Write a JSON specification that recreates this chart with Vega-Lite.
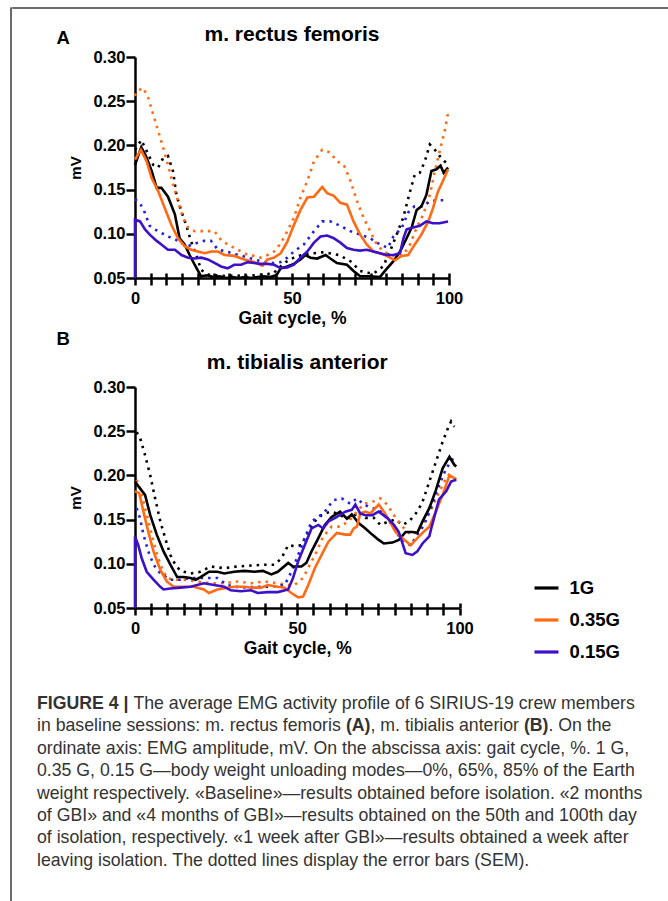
{
"$schema": "https://vega.github.io/schema/vega-lite/v6.json",
"background": "white",
"padding": {"left": 10, "top": 7, "right": 0, "bottom": 0},
"config": {"view": {"stroke": null}, "font": "Liberation Sans",
  "axis": {"grid": false, "domainColor": "black", "domainWidth": 2.5, "tickColor": "black", "tickWidth": 2.5, "labelColor": "black", "labelFont": "Liberation Sans", "labelFontWeight": "bold", "titleColor": "black", "titleFont": "Liberation Sans", "titleFontWeight": "bold", "labelFlush": false, "labelOverlap": false},
  "text": {"font": "Liberation Sans"}},
"datasets": {
"A": [
{"g":"1G","k":"m","x":0,"y":0.178},{"g":"1G","k":"m","x":2,"y":0.198},{"g":"1G","k":"m","x":3.5,"y":0.188},{"g":"1G","k":"m","x":5.3,"y":0.171},{"g":"1G","k":"m","x":6.9,"y":0.152},{"g":"1G","k":"m","x":8.4,"y":0.152},{"g":"1G","k":"m","x":10.5,"y":0.142},{"g":"1G","k":"m","x":12.7,"y":0.122},{"g":"1G","k":"m","x":14.2,"y":0.095},{"g":"1G","k":"m","x":15.8,"y":0.088},{"g":"1G","k":"m","x":17.4,"y":0.076},{"g":"1G","k":"m","x":19,"y":0.065},{"g":"1G","k":"m","x":21,"y":0.052},{"g":"1G","k":"m","x":23,"y":0.053},{"g":"1G","k":"m","x":25,"y":0.051},{"g":"1G","k":"m","x":27,"y":0.052},{"g":"1G","k":"m","x":29,"y":0.050},{"g":"1G","k":"m","x":31,"y":0.051},{"g":"1G","k":"m","x":33,"y":0.050},{"g":"1G","k":"m","x":35,"y":0.051},{"g":"1G","k":"m","x":37,"y":0.050},{"g":"1G","k":"m","x":39,"y":0.051},{"g":"1G","k":"m","x":41,"y":0.052},{"g":"1G","k":"m","x":43,"y":0.051},{"g":"1G","k":"m","x":45,"y":0.053},{"g":"1G","k":"m","x":46.4,"y":0.061},{"g":"1G","k":"m","x":48.5,"y":0.063},{"g":"1G","k":"m","x":50.6,"y":0.066},{"g":"1G","k":"m","x":52.7,"y":0.071},{"g":"1G","k":"m","x":54.3,"y":0.076},{"g":"1G","k":"m","x":55.9,"y":0.073},{"g":"1G","k":"m","x":58,"y":0.072},{"g":"1G","k":"m","x":60.7,"y":0.076},{"g":"1G","k":"m","x":62.2,"y":0.072},{"g":"1G","k":"m","x":64.3,"y":0.067},{"g":"1G","k":"m","x":67.5,"y":0.065},{"g":"1G","k":"m","x":69.6,"y":0.058},{"g":"1G","k":"m","x":71.7,"y":0.052},{"g":"1G","k":"m","x":74.9,"y":0.052},{"g":"1G","k":"m","x":78,"y":0.051},{"g":"1G","k":"m","x":79.6,"y":0.058},{"g":"1G","k":"m","x":82.3,"y":0.069},{"g":"1G","k":"m","x":84.4,"y":0.080},{"g":"1G","k":"m","x":86.5,"y":0.095},{"g":"1G","k":"m","x":88.1,"y":0.107},{"g":"1G","k":"m","x":89.7,"y":0.127},{"g":"1G","k":"m","x":91.2,"y":0.131},{"g":"1G","k":"m","x":92.8,"y":0.144},{"g":"1G","k":"m","x":94.4,"y":0.171},{"g":"1G","k":"m","x":96,"y":0.173},{"g":"1G","k":"m","x":97.3,"y":0.177},{"g":"1G","k":"m","x":98.3,"y":0.169},{"g":"1G","k":"m","x":99.7,"y":0.175},
{"g":"1G","k":"s","x":0,"y":0.195},{"g":"1G","k":"s","x":2,"y":0.206},{"g":"1G","k":"s","x":4.2,"y":0.190},{"g":"1G","k":"s","x":5.8,"y":0.178},{"g":"1G","k":"s","x":7.4,"y":0.175},{"g":"1G","k":"s","x":9,"y":0.186},{"g":"1G","k":"s","x":10.5,"y":0.188},{"g":"1G","k":"s","x":12.1,"y":0.171},{"g":"1G","k":"s","x":13.2,"y":0.144},{"g":"1G","k":"s","x":14.8,"y":0.125},{"g":"1G","k":"s","x":16.3,"y":0.110},{"g":"1G","k":"s","x":17.9,"y":0.091},{"g":"1G","k":"s","x":19.5,"y":0.076},{"g":"1G","k":"s","x":21.1,"y":0.059},{"g":"1G","k":"s","x":23.2,"y":0.054},{"g":"1G","k":"s","x":26,"y":0.053},{"g":"1G","k":"s","x":29,"y":0.052},{"g":"1G","k":"s","x":32,"y":0.053},{"g":"1G","k":"s","x":35,"y":0.052},{"g":"1G","k":"s","x":38,"y":0.053},{"g":"1G","k":"s","x":41,"y":0.054},{"g":"1G","k":"s","x":44,"y":0.055},{"g":"1G","k":"s","x":46,"y":0.062},{"g":"1G","k":"s","x":48,"y":0.068},{"g":"1G","k":"s","x":50.6,"y":0.073},{"g":"1G","k":"s","x":53.8,"y":0.077},{"g":"1G","k":"s","x":57,"y":0.078},{"g":"1G","k":"s","x":59.5,"y":0.079},{"g":"1G","k":"s","x":62,"y":0.078},{"g":"1G","k":"s","x":65,"y":0.076},{"g":"1G","k":"s","x":68.6,"y":0.069},{"g":"1G","k":"s","x":71.7,"y":0.058},{"g":"1G","k":"s","x":74,"y":0.056},{"g":"1G","k":"s","x":76,"y":0.055},{"g":"1G","k":"s","x":79,"y":0.063},{"g":"1G","k":"s","x":81.2,"y":0.080},{"g":"1G","k":"s","x":83.3,"y":0.099},{"g":"1G","k":"s","x":85.4,"y":0.118},{"g":"1G","k":"s","x":87.6,"y":0.148},{"g":"1G","k":"s","x":89.1,"y":0.167},{"g":"1G","k":"s","x":90.7,"y":0.169},{"g":"1G","k":"s","x":92.3,"y":0.182},{"g":"1G","k":"s","x":93.9,"y":0.201},{"g":"1G","k":"s","x":95.5,"y":0.195},{"g":"1G","k":"s","x":97,"y":0.188},{"g":"1G","k":"s","x":98.6,"y":0.182},{"g":"1G","k":"s","x":99.7,"y":0.178},
{"g":"0.35G","k":"m","x":0,"y":0.184},{"g":"0.35G","k":"m","x":1.9,"y":0.195},{"g":"0.35G","k":"m","x":3.7,"y":0.182},{"g":"0.35G","k":"m","x":5.3,"y":0.163},{"g":"0.35G","k":"m","x":7.4,"y":0.148},{"g":"0.35G","k":"m","x":9.5,"y":0.129},{"g":"0.35G","k":"m","x":11.6,"y":0.110},{"g":"0.35G","k":"m","x":13.7,"y":0.095},{"g":"0.35G","k":"m","x":15.8,"y":0.086},{"g":"0.35G","k":"m","x":17.9,"y":0.082},{"g":"0.35G","k":"m","x":20,"y":0.080},{"g":"0.35G","k":"m","x":22.2,"y":0.078},{"g":"0.35G","k":"m","x":24.3,"y":0.080},{"g":"0.35G","k":"m","x":26.4,"y":0.080},{"g":"0.35G","k":"m","x":28.5,"y":0.076},{"g":"0.35G","k":"m","x":31.6,"y":0.075},{"g":"0.35G","k":"m","x":34.8,"y":0.071},{"g":"0.35G","k":"m","x":37.9,"y":0.068},{"g":"0.35G","k":"m","x":40.6,"y":0.064},{"g":"0.35G","k":"m","x":42.2,"y":0.071},{"g":"0.35G","k":"m","x":44.3,"y":0.073},{"g":"0.35G","k":"m","x":46.4,"y":0.078},{"g":"0.35G","k":"m","x":48.5,"y":0.091},{"g":"0.35G","k":"m","x":50.6,"y":0.110},{"g":"0.35G","k":"m","x":52.7,"y":0.127},{"g":"0.35G","k":"m","x":54.9,"y":0.141},{"g":"0.35G","k":"m","x":57,"y":0.142},{"g":"0.35G","k":"m","x":59.6,"y":0.153},{"g":"0.35G","k":"m","x":61.2,"y":0.146},{"g":"0.35G","k":"m","x":63.3,"y":0.143},{"g":"0.35G","k":"m","x":65.4,"y":0.135},{"g":"0.35G","k":"m","x":67.5,"y":0.133},{"g":"0.35G","k":"m","x":69.6,"y":0.114},{"g":"0.35G","k":"m","x":71.7,"y":0.099},{"g":"0.35G","k":"m","x":73.8,"y":0.088},{"g":"0.35G","k":"m","x":75.9,"y":0.080},{"g":"0.35G","k":"m","x":78,"y":0.078},{"g":"0.35G","k":"m","x":80.2,"y":0.075},{"g":"0.35G","k":"m","x":82.8,"y":0.070},{"g":"0.35G","k":"m","x":84.9,"y":0.075},{"g":"0.35G","k":"m","x":87,"y":0.076},{"g":"0.35G","k":"m","x":89.1,"y":0.088},{"g":"0.35G","k":"m","x":91.2,"y":0.099},{"g":"0.35G","k":"m","x":93.4,"y":0.114},{"g":"0.35G","k":"m","x":94.9,"y":0.129},{"g":"0.35G","k":"m","x":96.5,"y":0.148},{"g":"0.35G","k":"m","x":98.1,"y":0.160},{"g":"0.35G","k":"m","x":99.7,"y":0.173},
{"g":"0.35G","k":"s","x":0,"y":0.256},{"g":"0.35G","k":"s","x":0.5,"y":0.261},{"g":"0.35G","k":"s","x":2.6,"y":0.265},{"g":"0.35G","k":"s","x":4.2,"y":0.254},{"g":"0.35G","k":"s","x":5.8,"y":0.235},{"g":"0.35G","k":"s","x":7.4,"y":0.216},{"g":"0.35G","k":"s","x":9,"y":0.197},{"g":"0.35G","k":"s","x":10.5,"y":0.178},{"g":"0.35G","k":"s","x":12.1,"y":0.156},{"g":"0.35G","k":"s","x":13.7,"y":0.137},{"g":"0.35G","k":"s","x":15.3,"y":0.118},{"g":"0.35G","k":"s","x":16.9,"y":0.107},{"g":"0.35G","k":"s","x":19,"y":0.103},{"g":"0.35G","k":"s","x":21,"y":0.103},{"g":"0.35G","k":"s","x":23,"y":0.103},{"g":"0.35G","k":"s","x":25.3,"y":0.103},{"g":"0.35G","k":"s","x":27.4,"y":0.093},{"g":"0.35G","k":"s","x":29.5,"y":0.088},{"g":"0.35G","k":"s","x":31.6,"y":0.084},{"g":"0.35G","k":"s","x":33.8,"y":0.080},{"g":"0.35G","k":"s","x":35.9,"y":0.076},{"g":"0.35G","k":"s","x":37.9,"y":0.075},{"g":"0.35G","k":"s","x":40,"y":0.073},{"g":"0.35G","k":"s","x":42.2,"y":0.076},{"g":"0.35G","k":"s","x":44.3,"y":0.080},{"g":"0.35G","k":"s","x":46.4,"y":0.089},{"g":"0.35G","k":"s","x":48.5,"y":0.103},{"g":"0.35G","k":"s","x":50.6,"y":0.118},{"g":"0.35G","k":"s","x":52.7,"y":0.141},{"g":"0.35G","k":"s","x":54.9,"y":0.160},{"g":"0.35G","k":"s","x":57,"y":0.182},{"g":"0.35G","k":"s","x":59.6,"y":0.195},{"g":"0.35G","k":"s","x":62.2,"y":0.192},{"g":"0.35G","k":"s","x":64.3,"y":0.182},{"g":"0.35G","k":"s","x":66.5,"y":0.178},{"g":"0.35G","k":"s","x":68.6,"y":0.160},{"g":"0.35G","k":"s","x":70.7,"y":0.137},{"g":"0.35G","k":"s","x":72.8,"y":0.118},{"g":"0.35G","k":"s","x":74.9,"y":0.103},{"g":"0.35G","k":"s","x":77,"y":0.088},{"g":"0.35G","k":"s","x":79.1,"y":0.080},{"g":"0.35G","k":"s","x":81.2,"y":0.076},{"g":"0.35G","k":"s","x":83.3,"y":0.075},{"g":"0.35G","k":"s","x":85.4,"y":0.076},{"g":"0.35G","k":"s","x":87.6,"y":0.088},{"g":"0.35G","k":"s","x":89.7,"y":0.107},{"g":"0.35G","k":"s","x":91.8,"y":0.122},{"g":"0.35G","k":"s","x":93.9,"y":0.144},{"g":"0.35G","k":"s","x":95.5,"y":0.171},{"g":"0.35G","k":"s","x":97,"y":0.193},{"g":"0.35G","k":"s","x":98.6,"y":0.216},{"g":"0.35G","k":"s","x":99.7,"y":0.237},
{"g":"0.15G","k":"m","x":0,"y":0.050},{"g":"0.15G","k":"m","x":0,"y":0.116},{"g":"0.15G","k":"m","x":1.6,"y":0.114},{"g":"0.15G","k":"m","x":3.2,"y":0.105},{"g":"0.15G","k":"m","x":4.7,"y":0.099},{"g":"0.15G","k":"m","x":6.9,"y":0.092},{"g":"0.15G","k":"m","x":8.4,"y":0.088},{"g":"0.15G","k":"m","x":10.5,"y":0.082},{"g":"0.15G","k":"m","x":12.7,"y":0.082},{"g":"0.15G","k":"m","x":14.8,"y":0.076},{"g":"0.15G","k":"m","x":16.9,"y":0.073},{"g":"0.15G","k":"m","x":19,"y":0.072},{"g":"0.15G","k":"m","x":21.1,"y":0.073},{"g":"0.15G","k":"m","x":23.2,"y":0.071},{"g":"0.15G","k":"m","x":25.3,"y":0.067},{"g":"0.15G","k":"m","x":27.4,"y":0.063},{"g":"0.15G","k":"m","x":29.5,"y":0.061},{"g":"0.15G","k":"m","x":31.6,"y":0.065},{"g":"0.15G","k":"m","x":33.8,"y":0.065},{"g":"0.15G","k":"m","x":35.9,"y":0.068},{"g":"0.15G","k":"m","x":37.9,"y":0.067},{"g":"0.15G","k":"m","x":40,"y":0.066},{"g":"0.15G","k":"m","x":42.2,"y":0.066},{"g":"0.15G","k":"m","x":44.3,"y":0.065},{"g":"0.15G","k":"m","x":46.4,"y":0.061},{"g":"0.15G","k":"m","x":48.5,"y":0.062},{"g":"0.15G","k":"m","x":50.6,"y":0.065},{"g":"0.15G","k":"m","x":52.7,"y":0.073},{"g":"0.15G","k":"m","x":54.9,"y":0.080},{"g":"0.15G","k":"m","x":57,"y":0.090},{"g":"0.15G","k":"m","x":59.1,"y":0.097},{"g":"0.15G","k":"m","x":61.2,"y":0.098},{"g":"0.15G","k":"m","x":63.3,"y":0.095},{"g":"0.15G","k":"m","x":65.4,"y":0.090},{"g":"0.15G","k":"m","x":67.5,"y":0.084},{"g":"0.15G","k":"m","x":69.6,"y":0.082},{"g":"0.15G","k":"m","x":71.7,"y":0.081},{"g":"0.15G","k":"m","x":73.8,"y":0.082},{"g":"0.15G","k":"m","x":75.9,"y":0.080},{"g":"0.15G","k":"m","x":78,"y":0.078},{"g":"0.15G","k":"m","x":80.2,"y":0.076},{"g":"0.15G","k":"m","x":82.3,"y":0.076},{"g":"0.15G","k":"m","x":84.4,"y":0.078},{"g":"0.15G","k":"m","x":85.5,"y":0.095},{"g":"0.15G","k":"m","x":86.5,"y":0.105},{"g":"0.15G","k":"m","x":88.6,"y":0.107},{"g":"0.15G","k":"m","x":90.7,"y":0.109},{"g":"0.15G","k":"m","x":92.8,"y":0.114},{"g":"0.15G","k":"m","x":94.9,"y":0.112},{"g":"0.15G","k":"m","x":97,"y":0.112},{"g":"0.15G","k":"m","x":99.7,"y":0.114},
{"g":"0.15G","k":"s","x":0,"y":0.139},{"g":"0.15G","k":"s","x":1.5,"y":0.135},{"g":"0.15G","k":"s","x":2.9,"y":0.126},{"g":"0.15G","k":"s","x":4.7,"y":0.109},{"g":"0.15G","k":"s","x":6.3,"y":0.105},{"g":"0.15G","k":"s","x":8.4,"y":0.101},{"g":"0.15G","k":"s","x":10.5,"y":0.097},{"g":"0.15G","k":"s","x":12.6,"y":0.094},{"g":"0.15G","k":"s","x":14.7,"y":0.090},{"g":"0.15G","k":"s","x":16.8,"y":0.086},{"g":"0.15G","k":"s","x":20,"y":0.090},{"g":"0.15G","k":"s","x":22,"y":0.092},{"g":"0.15G","k":"s","x":24.2,"y":0.092},{"g":"0.15G","k":"s","x":26.4,"y":0.082},{"g":"0.15G","k":"s","x":29,"y":0.080},{"g":"0.15G","k":"s","x":32,"y":0.077},{"g":"0.15G","k":"s","x":35,"y":0.074},{"g":"0.15G","k":"s","x":38,"y":0.071},{"g":"0.15G","k":"s","x":41,"y":0.068},{"g":"0.15G","k":"s","x":44,"y":0.067},{"g":"0.15G","k":"s","x":46.4,"y":0.068},{"g":"0.15G","k":"s","x":48.5,"y":0.073},{"g":"0.15G","k":"s","x":50.6,"y":0.080},{"g":"0.15G","k":"s","x":53.8,"y":0.088},{"g":"0.15G","k":"s","x":57,"y":0.103},{"g":"0.15G","k":"s","x":59.6,"y":0.114},{"g":"0.15G","k":"s","x":62.2,"y":0.114},{"g":"0.15G","k":"s","x":65.4,"y":0.109},{"g":"0.15G","k":"s","x":68.6,"y":0.103},{"g":"0.15G","k":"s","x":71.7,"y":0.099},{"g":"0.15G","k":"s","x":74.9,"y":0.095},{"g":"0.15G","k":"s","x":77,"y":0.090},{"g":"0.15G","k":"s","x":79.3,"y":0.086},{"g":"0.15G","k":"s","x":80.5,"y":0.084},{"g":"0.15G","k":"s","x":82.3,"y":0.097},{"g":"0.15G","k":"s","x":85,"y":0.107},{"g":"0.15G","k":"s","x":87,"y":0.124},{"g":"0.15G","k":"s","x":89,"y":0.131},{"g":"0.15G","k":"s","x":91.7,"y":0.131},{"g":"0.15G","k":"s","x":94,"y":0.137},{"g":"0.15G","k":"s","x":97,"y":0.138},{"g":"0.15G","k":"s","x":99,"y":0.138}
],
"B": [
{"g":"1G","k":"m","x":0,"y":0.193},{"g":"1G","k":"m","x":1.6,"y":0.185},{"g":"1G","k":"m","x":3.1,"y":0.178},{"g":"1G","k":"m","x":4.7,"y":0.155},{"g":"1G","k":"m","x":6.7,"y":0.133},{"g":"1G","k":"m","x":8.8,"y":0.114},{"g":"1G","k":"m","x":10.9,"y":0.099},{"g":"1G","k":"m","x":13,"y":0.085},{"g":"1G","k":"m","x":15,"y":0.085},{"g":"1G","k":"m","x":17.1,"y":0.084},{"g":"1G","k":"m","x":18.7,"y":0.082},{"g":"1G","k":"m","x":20.2,"y":0.085},{"g":"1G","k":"m","x":22.8,"y":0.091},{"g":"1G","k":"m","x":25.4,"y":0.091},{"g":"1G","k":"m","x":27.5,"y":0.089},{"g":"1G","k":"m","x":30.6,"y":0.091},{"g":"1G","k":"m","x":33.7,"y":0.092},{"g":"1G","k":"m","x":36.8,"y":0.091},{"g":"1G","k":"m","x":39.4,"y":0.092},{"g":"1G","k":"m","x":42,"y":0.088},{"g":"1G","k":"m","x":44,"y":0.091},{"g":"1G","k":"m","x":47.2,"y":0.101},{"g":"1G","k":"m","x":48.7,"y":0.097},{"g":"1G","k":"m","x":51.3,"y":0.097},{"g":"1G","k":"m","x":52.8,"y":0.101},{"g":"1G","k":"m","x":54.4,"y":0.114},{"g":"1G","k":"m","x":56.5,"y":0.129},{"g":"1G","k":"m","x":58.5,"y":0.144},{"g":"1G","k":"m","x":60.6,"y":0.153},{"g":"1G","k":"m","x":63.2,"y":0.159},{"g":"1G","k":"m","x":65.3,"y":0.151},{"g":"1G","k":"m","x":66.8,"y":0.156},{"g":"1G","k":"m","x":68.9,"y":0.146},{"g":"1G","k":"m","x":71,"y":0.140},{"g":"1G","k":"m","x":73.1,"y":0.133},{"g":"1G","k":"m","x":75.1,"y":0.127},{"g":"1G","k":"m","x":76.7,"y":0.123},{"g":"1G","k":"m","x":79.3,"y":0.124},{"g":"1G","k":"m","x":81.3,"y":0.127},{"g":"1G","k":"m","x":83.4,"y":0.136},{"g":"1G","k":"m","x":85.5,"y":0.136},{"g":"1G","k":"m","x":87,"y":0.135},{"g":"1G","k":"m","x":88.6,"y":0.148},{"g":"1G","k":"m","x":90.7,"y":0.163},{"g":"1G","k":"m","x":92.7,"y":0.183},{"g":"1G","k":"m","x":94.8,"y":0.208},{"g":"1G","k":"m","x":96.9,"y":0.221},{"g":"1G","k":"m","x":98.4,"y":0.212},{"g":"1G","k":"m","x":99,"y":0.210},
{"g":"1G","k":"s","x":0.5,"y":0.249},{"g":"1G","k":"s","x":1.6,"y":0.242},{"g":"1G","k":"s","x":3.1,"y":0.223},{"g":"1G","k":"s","x":4.7,"y":0.200},{"g":"1G","k":"s","x":6.2,"y":0.174},{"g":"1G","k":"s","x":7.8,"y":0.148},{"g":"1G","k":"s","x":9.3,"y":0.129},{"g":"1G","k":"s","x":10.9,"y":0.110},{"g":"1G","k":"s","x":12.4,"y":0.099},{"g":"1G","k":"s","x":14,"y":0.092},{"g":"1G","k":"s","x":17.1,"y":0.089},{"g":"1G","k":"s","x":20.2,"y":0.091},{"g":"1G","k":"s","x":23.3,"y":0.097},{"g":"1G","k":"s","x":27.5,"y":0.095},{"g":"1G","k":"s","x":31.6,"y":0.097},{"g":"1G","k":"s","x":35.8,"y":0.098},{"g":"1G","k":"s","x":39.9,"y":0.099},{"g":"1G","k":"s","x":43,"y":0.099},{"g":"1G","k":"s","x":45.1,"y":0.106},{"g":"1G","k":"s","x":47.2,"y":0.121},{"g":"1G","k":"s","x":49.2,"y":0.120},{"g":"1G","k":"s","x":51.3,"y":0.121},{"g":"1G","k":"s","x":53.4,"y":0.136},{"g":"1G","k":"s","x":55.4,"y":0.148},{"g":"1G","k":"s","x":57.5,"y":0.155},{"g":"1G","k":"s","x":60.1,"y":0.159},{"g":"1G","k":"s","x":62.2,"y":0.157},{"g":"1G","k":"s","x":64.8,"y":0.152},{"g":"1G","k":"s","x":66.8,"y":0.152},{"g":"1G","k":"s","x":68.9,"y":0.159},{"g":"1G","k":"s","x":71,"y":0.152},{"g":"1G","k":"s","x":73.6,"y":0.152},{"g":"1G","k":"s","x":75.6,"y":0.144},{"g":"1G","k":"s","x":78.2,"y":0.148},{"g":"1G","k":"s","x":80.3,"y":0.150},{"g":"1G","k":"s","x":82.4,"y":0.144},{"g":"1G","k":"s","x":84.5,"y":0.148},{"g":"1G","k":"s","x":87,"y":0.159},{"g":"1G","k":"s","x":88.6,"y":0.170},{"g":"1G","k":"s","x":90.7,"y":0.193},{"g":"1G","k":"s","x":92.7,"y":0.215},{"g":"1G","k":"s","x":94.8,"y":0.238},{"g":"1G","k":"s","x":96.4,"y":0.253},{"g":"1G","k":"s","x":97.4,"y":0.261},{"g":"1G","k":"s","x":98.4,"y":0.255},
{"g":"0.35G","k":"m","x":0,"y":0.182},{"g":"0.35G","k":"m","x":1.3,"y":0.180},{"g":"0.35G","k":"m","x":2.6,"y":0.159},{"g":"0.35G","k":"m","x":4.1,"y":0.136},{"g":"0.35G","k":"m","x":5.7,"y":0.114},{"g":"0.35G","k":"m","x":7.8,"y":0.093},{"g":"0.35G","k":"m","x":9.8,"y":0.080},{"g":"0.35G","k":"m","x":11.9,"y":0.074},{"g":"0.35G","k":"m","x":15,"y":0.074},{"g":"0.35G","k":"m","x":18.1,"y":0.074},{"g":"0.35G","k":"m","x":21.2,"y":0.071},{"g":"0.35G","k":"m","x":22.8,"y":0.067},{"g":"0.35G","k":"m","x":25.4,"y":0.071},{"g":"0.35G","k":"m","x":28.5,"y":0.073},{"g":"0.35G","k":"m","x":30.6,"y":0.074},{"g":"0.35G","k":"m","x":33.7,"y":0.074},{"g":"0.35G","k":"m","x":35.8,"y":0.073},{"g":"0.35G","k":"m","x":38.9,"y":0.073},{"g":"0.35G","k":"m","x":40.9,"y":0.076},{"g":"0.35G","k":"m","x":44,"y":0.074},{"g":"0.35G","k":"m","x":46.1,"y":0.073},{"g":"0.35G","k":"m","x":48.2,"y":0.067},{"g":"0.35G","k":"m","x":50.3,"y":0.062},{"g":"0.35G","k":"m","x":51.8,"y":0.063},{"g":"0.35G","k":"m","x":53.4,"y":0.076},{"g":"0.35G","k":"m","x":55.4,"y":0.095},{"g":"0.35G","k":"m","x":57.5,"y":0.110},{"g":"0.35G","k":"m","x":59.6,"y":0.125},{"g":"0.35G","k":"m","x":62.2,"y":0.135},{"g":"0.35G","k":"m","x":64.8,"y":0.133},{"g":"0.35G","k":"m","x":66.3,"y":0.133},{"g":"0.35G","k":"m","x":67.4,"y":0.140},{"g":"0.35G","k":"m","x":68.4,"y":0.142},{"g":"0.35G","k":"m","x":69.4,"y":0.157},{"g":"0.35G","k":"m","x":71,"y":0.159},{"g":"0.35G","k":"m","x":72.5,"y":0.157},{"g":"0.35G","k":"m","x":75.1,"y":0.167},{"g":"0.35G","k":"m","x":76.7,"y":0.159},{"g":"0.35G","k":"m","x":78.2,"y":0.150},{"g":"0.35G","k":"m","x":80.3,"y":0.136},{"g":"0.35G","k":"m","x":82.4,"y":0.129},{"g":"0.35G","k":"m","x":85,"y":0.121},{"g":"0.35G","k":"m","x":86.5,"y":0.127},{"g":"0.35G","k":"m","x":88.6,"y":0.135},{"g":"0.35G","k":"m","x":90.7,"y":0.142},{"g":"0.35G","k":"m","x":92.7,"y":0.159},{"g":"0.35G","k":"m","x":94.8,"y":0.178},{"g":"0.35G","k":"m","x":96.9,"y":0.200},{"g":"0.35G","k":"m","x":98.4,"y":0.197},{"g":"0.35G","k":"m","x":99,"y":0.195},
{"g":"0.35G","k":"s","x":0.5,"y":0.195},{"g":"0.35G","k":"s","x":1.6,"y":0.185},{"g":"0.35G","k":"s","x":3.1,"y":0.163},{"g":"0.35G","k":"s","x":4.7,"y":0.140},{"g":"0.35G","k":"s","x":6.2,"y":0.118},{"g":"0.35G","k":"s","x":7.8,"y":0.099},{"g":"0.35G","k":"s","x":9.8,"y":0.084},{"g":"0.35G","k":"s","x":11.9,"y":0.082},{"g":"0.35G","k":"s","x":15,"y":0.082},{"g":"0.35G","k":"s","x":19.2,"y":0.080},{"g":"0.35G","k":"s","x":23.3,"y":0.078},{"g":"0.35G","k":"s","x":27.5,"y":0.078},{"g":"0.35G","k":"s","x":31.6,"y":0.080},{"g":"0.35G","k":"s","x":35.8,"y":0.078},{"g":"0.35G","k":"s","x":39.9,"y":0.080},{"g":"0.35G","k":"s","x":44,"y":0.078},{"g":"0.35G","k":"s","x":47.2,"y":0.076},{"g":"0.35G","k":"s","x":49.2,"y":0.076},{"g":"0.35G","k":"s","x":51.8,"y":0.084},{"g":"0.35G","k":"s","x":53.9,"y":0.099},{"g":"0.35G","k":"s","x":56,"y":0.114},{"g":"0.35G","k":"s","x":58,"y":0.131},{"g":"0.35G","k":"s","x":60.6,"y":0.142},{"g":"0.35G","k":"s","x":63.2,"y":0.142},{"g":"0.35G","k":"s","x":65.8,"y":0.148},{"g":"0.35G","k":"s","x":68.4,"y":0.159},{"g":"0.35G","k":"s","x":70.5,"y":0.168},{"g":"0.35G","k":"s","x":73.1,"y":0.170},{"g":"0.35G","k":"s","x":75.6,"y":0.174},{"g":"0.35G","k":"s","x":77.7,"y":0.167},{"g":"0.35G","k":"s","x":79.8,"y":0.155},{"g":"0.35G","k":"s","x":82.4,"y":0.142},{"g":"0.35G","k":"s","x":85,"y":0.133},{"g":"0.35G","k":"s","x":87,"y":0.136},{"g":"0.35G","k":"s","x":89.1,"y":0.148},{"g":"0.35G","k":"s","x":91.2,"y":0.161},{"g":"0.35G","k":"s","x":93.3,"y":0.178},{"g":"0.35G","k":"s","x":95.9,"y":0.197},{"g":"0.35G","k":"s","x":98,"y":0.206},
{"g":"0.15G","k":"m","x":0,"y":0.050},{"g":"0.15G","k":"m","x":0,"y":0.131},{"g":"0.15G","k":"m","x":1,"y":0.121},{"g":"0.15G","k":"m","x":2.1,"y":0.106},{"g":"0.15G","k":"m","x":3.6,"y":0.091},{"g":"0.15G","k":"m","x":5.7,"y":0.082},{"g":"0.15G","k":"m","x":7.8,"y":0.074},{"g":"0.15G","k":"m","x":8.8,"y":0.071},{"g":"0.15G","k":"m","x":10.9,"y":0.072},{"g":"0.15G","k":"m","x":14,"y":0.073},{"g":"0.15G","k":"m","x":17.1,"y":0.074},{"g":"0.15G","k":"m","x":21.2,"y":0.078},{"g":"0.15G","k":"m","x":24.4,"y":0.076},{"g":"0.15G","k":"m","x":27.5,"y":0.074},{"g":"0.15G","k":"m","x":29.5,"y":0.070},{"g":"0.15G","k":"m","x":32.6,"y":0.069},{"g":"0.15G","k":"m","x":35.8,"y":0.070},{"g":"0.15G","k":"m","x":37.8,"y":0.067},{"g":"0.15G","k":"m","x":40.9,"y":0.068},{"g":"0.15G","k":"m","x":44,"y":0.068},{"g":"0.15G","k":"m","x":47.2,"y":0.071},{"g":"0.15G","k":"m","x":48.7,"y":0.084},{"g":"0.15G","k":"m","x":50.3,"y":0.103},{"g":"0.15G","k":"m","x":52.3,"y":0.121},{"g":"0.15G","k":"m","x":54.4,"y":0.140},{"g":"0.15G","k":"m","x":56.5,"y":0.144},{"g":"0.15G","k":"m","x":58,"y":0.140},{"g":"0.15G","k":"m","x":59.6,"y":0.148},{"g":"0.15G","k":"m","x":61.7,"y":0.152},{"g":"0.15G","k":"m","x":64.8,"y":0.159},{"g":"0.15G","k":"m","x":66.8,"y":0.161},{"g":"0.15G","k":"m","x":67.9,"y":0.167},{"g":"0.15G","k":"m","x":69.4,"y":0.157},{"g":"0.15G","k":"m","x":71,"y":0.155},{"g":"0.15G","k":"m","x":73.1,"y":0.155},{"g":"0.15G","k":"m","x":75.1,"y":0.159},{"g":"0.15G","k":"m","x":77.7,"y":0.152},{"g":"0.15G","k":"m","x":79.8,"y":0.144},{"g":"0.15G","k":"m","x":81.3,"y":0.136},{"g":"0.15G","k":"m","x":83.4,"y":0.112},{"g":"0.15G","k":"m","x":85.5,"y":0.110},{"g":"0.15G","k":"m","x":87,"y":0.114},{"g":"0.15G","k":"m","x":88.6,"y":0.123},{"g":"0.15G","k":"m","x":90.7,"y":0.131},{"g":"0.15G","k":"m","x":91.5,"y":0.143},{"g":"0.15G","k":"m","x":93.7,"y":0.173},{"g":"0.15G","k":"m","x":95.9,"y":0.182},{"g":"0.15G","k":"m","x":97.4,"y":0.193},{"g":"0.15G","k":"m","x":99,"y":0.195},
{"g":"0.15G","k":"s","x":0.5,"y":0.163},{"g":"0.15G","k":"s","x":1.6,"y":0.151},{"g":"0.15G","k":"s","x":2.6,"y":0.133},{"g":"0.15G","k":"s","x":4.1,"y":0.114},{"g":"0.15G","k":"s","x":5.7,"y":0.099},{"g":"0.15G","k":"s","x":7.8,"y":0.089},{"g":"0.15G","k":"s","x":10.9,"y":0.082},{"g":"0.15G","k":"s","x":14,"y":0.082},{"g":"0.15G","k":"s","x":17.1,"y":0.084},{"g":"0.15G","k":"s","x":21.2,"y":0.084},{"g":"0.15G","k":"s","x":25.4,"y":0.084},{"g":"0.15G","k":"s","x":28.5,"y":0.076},{"g":"0.15G","k":"s","x":32.6,"y":0.073},{"g":"0.15G","k":"s","x":37.8,"y":0.074},{"g":"0.15G","k":"s","x":42,"y":0.074},{"g":"0.15G","k":"s","x":46.1,"y":0.076},{"g":"0.15G","k":"s","x":48.2,"y":0.091},{"g":"0.15G","k":"s","x":50.3,"y":0.110},{"g":"0.15G","k":"s","x":52.3,"y":0.129},{"g":"0.15G","k":"s","x":54.4,"y":0.148},{"g":"0.15G","k":"s","x":56.5,"y":0.153},{"g":"0.15G","k":"s","x":58.5,"y":0.159},{"g":"0.15G","k":"s","x":61.1,"y":0.172},{"g":"0.15G","k":"s","x":63.7,"y":0.174},{"g":"0.15G","k":"s","x":66.3,"y":0.168},{"g":"0.15G","k":"s","x":68.4,"y":0.174},{"g":"0.15G","k":"s","x":70.5,"y":0.167},{"g":"0.15G","k":"s","x":73.1,"y":0.163},{"g":"0.15G","k":"s","x":75.1,"y":0.161},{"g":"0.15G","k":"s","x":77.7,"y":0.152},{"g":"0.15G","k":"s","x":79.8,"y":0.140},{"g":"0.15G","k":"s","x":82.4,"y":0.125},{"g":"0.15G","k":"s","x":85,"y":0.121},{"g":"0.15G","k":"s","x":87,"y":0.133},{"g":"0.15G","k":"s","x":89.1,"y":0.144},{"g":"0.15G","k":"s","x":91.2,"y":0.163},{"g":"0.15G","k":"s","x":93.3,"y":0.185},{"g":"0.15G","k":"s","x":95.9,"y":0.208},{"g":"0.15G","k":"s","x":98.4,"y":0.221}
]
},
"hconcat": [
 {"width": 0.01, "height": 893, "data": {"values": []}, "mark": "point", "view": {"stroke": "#3a3a3a", "strokeWidth": 1.5}},
 {"vconcat": [
   {"width": 657, "height": 0.01, "data": {"values": []}, "mark": "point", "view": {"stroke": "#3a3a3a", "strokeWidth": 1.5}},
   {"hconcat": [
     {"width": 1, "height": 1, "data": {"values": []}, "mark": "point"},
     {"vconcat": [
       {"width": 314, "height": 221, "data": {"name": "A"},
        "resolve": {"axis": {"x": "independent"}, "scale": {"color": "independent"}},
        "layer": [
          {"transform": [{"filter": "datum.k == 's'"}],
           "mark": {"type": "line", "strokeWidth": 2.6, "strokeDash": [2.5, 5]},
           "encoding": {
             "x": {"field": "x", "type": "quantitative", "scale": {"domain": [0, 100], "nice": false, "zero": false}, "axis": {"orient": "bottom", "values": [5,10,15,20,25,30,35,40,45,50,55,60,65,70,75,80,85,90,95,100], "tickSize": -5, "labels": false, "domain": false, "title": null}},
             "y": {"field": "y", "type": "quantitative", "scale": {"domain": [0.05, 0.30], "nice": false, "zero": false}, "axis": {"values": [0.05, 0.10, 0.15, 0.20, 0.25, 0.30], "format": ".2f", "title": "mV", "titleFontSize": 15, "titlePadding": 9, "labelFontSize": 16.5, "labelPadding": 1, "tickSize": 9}},
             "color": {"field": "g", "type": "nominal", "scale": {"domain": ["1G", "0.35G", "0.15G"], "range": ["#000000", "#FF6A13", "#2222DD"]}, "legend": null}}},
          {"transform": [{"filter": "datum.k == 'm'"}],
           "mark": {"type": "line", "strokeWidth": 2.6},
           "encoding": {
             "x": {"field": "x", "type": "quantitative", "scale": {"domain": [0, 100], "nice": false, "zero": false}, "axis": {"orient": "bottom", "values": [0,5,10,15,20,25,30,35,40,45,50,55,60,65,70,75,80,85,90,95,100], "labelExpr": "datum.value % 50 === 0 ? datum.label : ''", "title": "Gait cycle, %", "titleFontSize": 17.5, "titlePadding": 3, "labelFontSize": 16.5, "labelPadding": 5, "tickSize": 7}},
             "y": {"field": "y", "type": "quantitative", "scale": {"domain": [0.05, 0.30], "nice": false, "zero": false}, "axis": {"values": [0.05, 0.10, 0.15, 0.20, 0.25, 0.30], "format": ".2f", "title": "mV", "titleFontSize": 15, "titlePadding": 9, "labelFontSize": 16.5, "labelPadding": 1, "tickSize": 9}},
             "color": {"field": "g", "type": "nominal", "scale": {"domain": ["1G", "0.35G", "0.15G"], "range": ["#000000", "#FF6A13", "#3D10C9"]}, "legend": null}}},
          {"data": {"values": [{"lab": "A"}]},
           "mark": {"type": "text", "align": "left", "baseline": "alphabetic", "fontSize": 18.5, "fontWeight": "bold", "color": "black"},
           "encoding": {
             "text": {"field": "lab"},
             "x": {"datum": -25.0, "type": "quantitative", "scale": {"domain": [0, 100], "nice": false, "zero": false}, "axis": null},
             "y": {"datum": 0.3145, "type": "quantitative", "scale": {"domain": [0.05, 0.30], "nice": false, "zero": false}, "axis": {"values": [0.05, 0.10, 0.15, 0.20, 0.25, 0.30], "format": ".2f", "title": "mV", "titleFontSize": 15, "titlePadding": 9, "labelFontSize": 16.5, "labelPadding": 1, "tickSize": 9}}}},
          {"data": {"values": [{"lab": "m. rectus femoris"}]},
           "mark": {"type": "text", "align": "center", "baseline": "alphabetic", "fontSize": 21, "fontWeight": "bold", "color": "black"},
           "encoding": {
             "text": {"field": "lab"},
             "x": {"datum": 50, "type": "quantitative", "scale": {"domain": [0, 100], "nice": false, "zero": false}, "axis": null},
             "y": {"datum": 0.3181, "type": "quantitative", "scale": {"domain": [0.05, 0.30], "nice": false, "zero": false}, "axis": {"values": [0.05, 0.10, 0.15, 0.20, 0.25, 0.30], "format": ".2f", "title": "mV", "titleFontSize": 15, "titlePadding": 9, "labelFontSize": 16.5, "labelPadding": 1, "tickSize": 9}}}}
        ]},
       {"width": 324.5, "height": 221, "data": {"name": "B"},
        "resolve": {"axis": {"x": "independent"}, "scale": {"color": "independent"}},
        "layer": [
          {"transform": [{"filter": "datum.k == 's'"}],
           "mark": {"type": "line", "strokeWidth": 2.6, "strokeDash": [2.5, 5]},
           "encoding": {
             "x": {"field": "x", "type": "quantitative", "scale": {"domain": [0, 100], "nice": false, "zero": false}, "axis": {"orient": "bottom", "values": [5,10,15,20,25,30,35,40,45,50,55,60,65,70,75,80,85,90,95,100], "tickSize": -5, "labels": false, "domain": false, "title": null}},
             "y": {"field": "y", "type": "quantitative", "scale": {"domain": [0.05, 0.30], "nice": false, "zero": false}, "axis": {"values": [0.05, 0.10, 0.15, 0.20, 0.25, 0.30], "format": ".2f", "title": "mV", "titleFontSize": 15, "titlePadding": 9, "labelFontSize": 16.5, "labelPadding": 1, "tickSize": 9}},
             "color": {"field": "g", "type": "nominal", "scale": {"domain": ["1G", "0.35G", "0.15G"], "range": ["#000000", "#FF6A13", "#2222DD"]}, "legend": null}}},
          {"transform": [{"filter": "datum.k == 'm'"}],
           "mark": {"type": "line", "strokeWidth": 2.6},
           "encoding": {
             "x": {"field": "x", "type": "quantitative", "scale": {"domain": [0, 100], "nice": false, "zero": false}, "axis": {"orient": "bottom", "values": [0,5,10,15,20,25,30,35,40,45,50,55,60,65,70,75,80,85,90,95,100], "labelExpr": "datum.value % 50 === 0 ? datum.label : ''", "title": "Gait cycle, %", "titleFontSize": 17.5, "titlePadding": 3, "labelFontSize": 16.5, "labelPadding": 5, "tickSize": 7}},
             "y": {"field": "y", "type": "quantitative", "scale": {"domain": [0.05, 0.30], "nice": false, "zero": false}, "axis": {"values": [0.05, 0.10, 0.15, 0.20, 0.25, 0.30], "format": ".2f", "title": "mV", "titleFontSize": 15, "titlePadding": 9, "labelFontSize": 16.5, "labelPadding": 1, "tickSize": 9}},
             "color": {"field": "g", "type": "nominal", "scale": {"domain": ["1G", "0.35G", "0.15G"], "range": ["#000000", "#FF6A13", "#3D10C9"]},
               "legend": {"orient": "none", "legendX": 397.5, "legendY": 187, "title": null, "symbolType": "stroke", "symbolStrokeWidth": 3.2, "symbolSize": 576, "labelFontSize": 18.5, "labelFont": "Liberation Sans", "labelFontWeight": "bold", "labelColor": "black", "rowPadding": 8, "labelOffset": 9, "padding": 0}}}},
          {"data": {"values": [{"lab": "B"}]},
           "mark": {"type": "text", "align": "left", "baseline": "alphabetic", "fontSize": 18.5, "fontWeight": "bold", "color": "black"},
           "encoding": {
             "text": {"field": "lab"},
             "x": {"datum": -24.2, "type": "quantitative", "scale": {"domain": [0, 100], "nice": false, "zero": false}, "axis": null},
             "y": {"datum": 0.3474, "type": "quantitative", "scale": {"domain": [0.05, 0.30], "nice": false, "zero": false}, "axis": {"values": [0.05, 0.10, 0.15, 0.20, 0.25, 0.30], "format": ".2f", "title": "mV", "titleFontSize": 15, "titlePadding": 9, "labelFontSize": 16.5, "labelPadding": 1, "tickSize": 9}}}},
          {"data": {"values": [{"lab": "m. tibialis anterior"}]},
           "mark": {"type": "text", "align": "center", "baseline": "alphabetic", "fontSize": 21, "fontWeight": "bold", "color": "black"},
           "encoding": {
             "text": {"field": "lab"},
             "x": {"datum": 50, "type": "quantitative", "scale": {"domain": [0, 100], "nice": false, "zero": false}, "axis": null},
             "y": {"datum": 0.3204, "type": "quantitative", "scale": {"domain": [0.05, 0.30], "nice": false, "zero": false}, "axis": {"values": [0.05, 0.10, 0.15, 0.20, 0.25, 0.30], "format": ".2f", "title": "mV", "titleFontSize": 15, "titlePadding": 9, "labelFontSize": 16.5, "labelPadding": 1, "tickSize": 9}}}}
        ]}
     ], "spacing": 3}
   ], "spacing": 42},
   {"hconcat": [
     {"width": 1, "height": 1, "data": {"values": []}, "mark": "point"},
     {"width": 600, "height": 190,
      "encoding": {
        "x": {"datum": 0, "type": "quantitative", "scale": {"domain": [0, 1]}, "axis": null},
        "y": {"field": "i", "type": "quantitative", "scale": {"domain": [-1.25, 7.232], "reverse": true, "nice": false, "zero": false}, "axis": null},
        "text": {"field": "t"}},
      "layer": [
        {"data": {"values": [
          {"i": 2, "t": "ordinate axis: EMG amplitude, mV. On the abscissa axis: gait cycle, %. 1 G,"},
          {"i": 3, "t": "0.35 G, 0.15 G—body weight unloading modes—0%, 65%, 85% of the Earth"},
          {"i": 4, "t": "weight respectively. «Baseline»—results obtained before isolation. «2 months"},
          {"i": 5, "t": "of GBI» and «4 months of GBI»—results obtained on the 50th and 100th day"},
          {"i": 6, "t": "of isolation, respectively. «1 week after GBI»—results obtained a week after"},
          {"i": 7, "t": "leaving isolation. The dotted lines display the error bars (SEM)."},
          {"i": 1, "t": "in baseline sessions: m. rectus femoris "}]},
         "mark": {"type": "text", "align": "left", "baseline": "middle", "fontSize": 17.7, "color": "#333333"}},
        {"data": {"values": [{"i": 0, "t": "The average EMG activity profile of 6 SIRIUS-19 crew members"}]},
         "mark": {"type": "text", "align": "left", "baseline": "middle", "fontSize": 17.7, "color": "#333333", "dx": 96.4}},
        {"data": {"values": [{"i": 0, "t": "FIGURE 4 |"}]},
         "mark": {"type": "text", "align": "left", "baseline": "middle", "fontSize": 17.7, "fontWeight": "bold", "color": "#333333"}},
        {"data": {"values": [{"i": 1, "t": "(A)"}]},
         "mark": {"type": "text", "align": "left", "baseline": "middle", "fontSize": 17.7, "fontWeight": "bold", "color": "#333333", "dx": 308.9}},
        {"data": {"values": [{"i": 1, "t": ", m. tibialis anterior "}]},
         "mark": {"type": "text", "align": "left", "baseline": "middle", "fontSize": 17.7, "color": "#333333", "dx": 333.5}},
        {"data": {"values": [{"i": 1, "t": "(B)"}]},
         "mark": {"type": "text", "align": "left", "baseline": "middle", "fontSize": 17.7, "fontWeight": "bold", "color": "#333333", "dx": 486.9}},
        {"data": {"values": [{"i": 1, "t": ". On the"}]},
         "mark": {"type": "text", "align": "left", "baseline": "middle", "fontSize": 17.7, "color": "#333333", "dx": 511.5}}
      ]}
   ], "spacing": 23}
 ], "spacing": 14}
], "spacing": 0}
